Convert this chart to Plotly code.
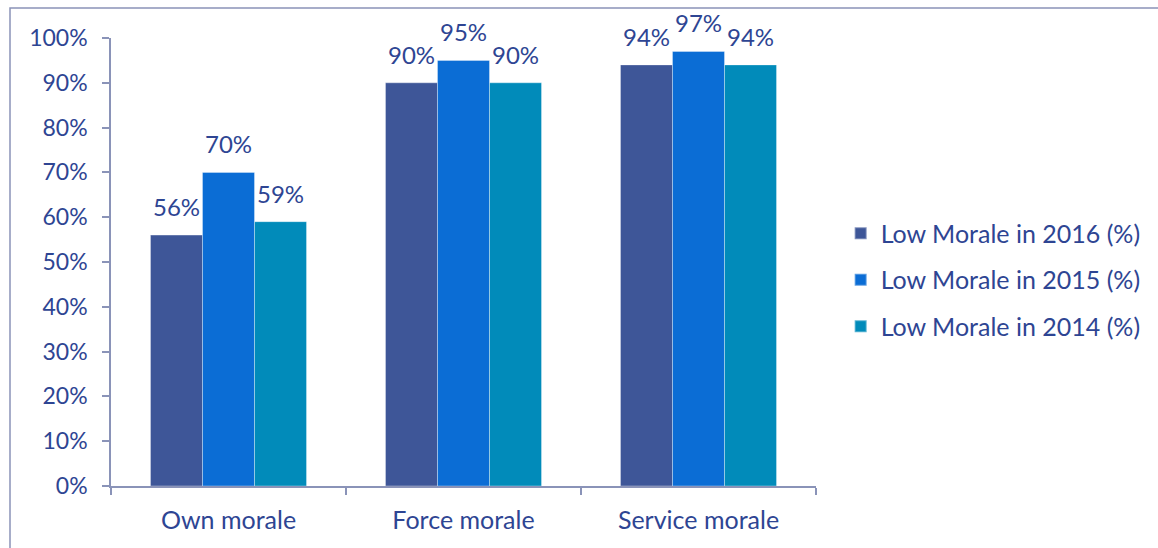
import plotly.graph_objects as go

categories = ["Own morale", "Force morale", "Service morale"]
series_names = ["Low Morale in 2016 (%)", "Low Morale in 2015 (%)", "Low Morale in 2014 (%)"]
low_2016 = [0.56, 0.90, 0.94]
low_2015 = [0.70, 0.95, 0.97]
low_2014 = [0.59, 0.90, 0.94]
colors = ["#3E5698", "#0B6DD5", "#018BBA"]

TEXT = "#2E4593"
AXIS = "#8A93B8"
FONT = "Lato, 'Open Sans', sans-serif"
GAP = 0.336
PLOT_W = 705  # plot area width in px (1158 - 111 - 342)
BAR_PX = PLOT_W / len(categories) * (1 - GAP) / 3

fig = go.Figure()
all_series = [low_2016, low_2015, low_2014]
for i, (name, vals, col) in enumerate(zip(series_names, all_series, colors)):
    fig.add_trace(go.Bar(
        x=categories, y=vals, name=name,
        marker=dict(color=col, line=dict(color="rgba(255,255,255,0.35)", width=1)),
        legendgroup=f"g{i}",
    ))
    # value label above each bar
    for cat, v in zip(categories, vals):
        fig.add_annotation(x=cat, y=v, text=f"{v:.0%}", showarrow=False,
                           xshift=(i - 1) * BAR_PX, yanchor="bottom", yshift=12,
                           font=dict(color=TEXT, size=24, family=FONT))

fig.update_layout(
    width=1158, height=548,
    margin=dict(l=111, r=342, t=38, b=62),
    paper_bgcolor="white", plot_bgcolor="white",
    barmode="group", bargap=GAP, bargroupgap=0,
    font=dict(family=FONT, color=TEXT, size=23),
    showlegend=True,
    legend=dict(x=1.035, y=0.46, xanchor="left", yanchor="middle",
                font=dict(size=25, color=TEXT, family=FONT),
                tracegroupgap=11, traceorder="grouped",
                itemsizing="constant", bgcolor="rgba(0,0,0,0)"),
)
fig.update_yaxes(range=[0, 1], tickformat=".0%", dtick=0.1, showgrid=False,
                 showline=True, linecolor=AXIS, linewidth=1.5,
                 ticks="outside", ticklen=7, tickcolor=AXIS, tickwidth=1.5,
                 ticklabelstandoff=10,
                 tickfont=dict(size=23, color=TEXT, family=FONT), zeroline=False)
fig.update_xaxes(showgrid=False, showline=True, linecolor=AXIS, linewidth=1.5,
                 ticks="outside", ticklen=7, tickcolor=AXIS, tickwidth=1.5,
                 tickson="boundaries", ticklabelstandoff=11,
                 tickfont=dict(size=25, color=TEXT, family=FONT))

# outer chart frame
fig.add_shape(type="rect", xref="paper", yref="paper",
              x0=(10 - 111) / 705, x1=1.7, y0=-0.3, y1=(486 - 8) / 448,
              line=dict(color=AXIS, width=1.5), fillcolor="rgba(0,0,0,0)", layer="below")

fig.write_html("out.html")
